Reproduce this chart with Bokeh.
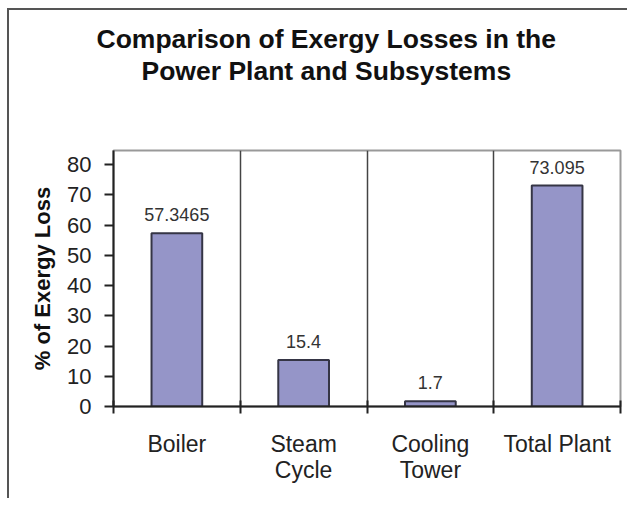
import numpy as np
from bokeh.plotting import figure
from bokeh.models import ColumnDataSource, FixedTicker, LabelSet, Range1d, Title
from bokeh.core.properties import value
from bokeh.embed import file_html
from bokeh.resources import INLINE

# ---- data ----
categories = ["Boiler", "Steam\nCycle", "Cooling\nTower", "Total Plant"]
losses = [57.3465, 15.4, 1.7, 73.095]
value_labels = [str(v) for v in losses]
y_ticks = [0, 10, 20, 30, 40, 50, 60, 70, 80]
title_line1 = "Comparison of Exergy Losses in the"
title_line2 = "Power  Plant and Subsystems"
y_label = "% of Exergy Loss"

FONT = "Liberation Sans"
n = len(categories)
centers = [i + 0.5 for i in range(n)]
bounds = list(range(n + 1))

src = ColumnDataSource(dict(x=centers, top=losses, label=value_labels))

p = figure(width=620, height=490, output_backend="svg", toolbar_location=None,
           x_range=Range1d(0, n), y_range=Range1d(0, 84.7),
           min_border_left=104, min_border_top=140, min_border_right=9,
           min_border_bottom=94)
p.styles = {"border-top": "2px solid #555555", "border-left": "2px solid #555555",
            "position": "relative", "top": "8px", "left": "7px"}

# titles: above list stacks outward from the frame (spacer, line 2); p.title is outermost
p.title.text = title_line1
p.title.align = "left"
p.title.offset = -17
p.title.standoff = 0
spacer = Title(text=" ", text_font_size="1px", standoff=62)
p.add_layout(spacer, "above")
t2 = Title(text=title_line2, align="left", offset=28, standoff=0)
p.add_layout(t2, "above")
for t in (p.title, t2):
    t.text_font = FONT
    t.text_font_size = "26.5px"
    t.text_font_style = "bold"
    t.text_color = "#111111"

# frame
p.outline_line_color = "#999999"
p.outline_line_width = 2
p.background_fill_color = "white"
p.border_fill_color = "white"

# bars
p.vbar(x="x", top="top", width=0.4, source=src, fill_color="#9595C8",
       line_color="#353545", line_width=2)

labels = LabelSet(x="x", y="top", text="label", source=src, y_offset=12,
                  text_align="center", text_baseline="bottom",
                  text_font=value(FONT), text_font_size=value("18px"),
                  text_color="#333333")
p.add_layout(labels)

# x axis
xa = p.xaxis[0]
xa.ticker = FixedTicker(ticks=centers, minor_ticks=bounds)
xa.major_label_overrides = {c: lab for c, lab in zip(centers, categories)}
xa.major_tick_in = 0
xa.major_tick_out = 0
xa.minor_tick_in = 6
xa.minor_tick_out = 7
xa.minor_tick_line_color = "#222222"
xa.minor_tick_line_width = 2
xa.axis_line_color = "#222222"
xa.axis_line_width = 2
xa.major_label_standoff = 17
xa.major_label_text_font = FONT
xa.major_label_text_font_size = "23px"
xa.major_label_text_line_height = 1.0
xa.major_label_text_color = "#222222"

# y axis
ya = p.yaxis[0]
ya.ticker = FixedTicker(ticks=y_ticks)
ya.minor_tick_line_color = None
ya.major_tick_in = 0
ya.major_tick_out = 9
ya.major_tick_line_color = "#222222"
ya.major_tick_line_width = 2
ya.axis_line_color = "#222222"
ya.axis_line_width = 2
ya.major_label_standoff = 13
ya.major_label_text_font = FONT
ya.major_label_text_font_size = "22px"
ya.major_label_text_color = "#222222"
ya.axis_label = y_label
ya.axis_label_text_font = FONT
ya.axis_label_text_font_size = "22px"
ya.axis_label_text_font_style = "bold"
ya.axis_label_text_color = "#111111"
ya.axis_label_standoff = 9

# grids: separators between categories only
p.ygrid.grid_line_color = None
p.xgrid.ticker = FixedTicker(ticks=bounds[1:-1])
p.xgrid.grid_line_color = "#444444"
p.xgrid.grid_line_width = 1.5

open("out.html", "w").write(file_html(p, INLINE))
